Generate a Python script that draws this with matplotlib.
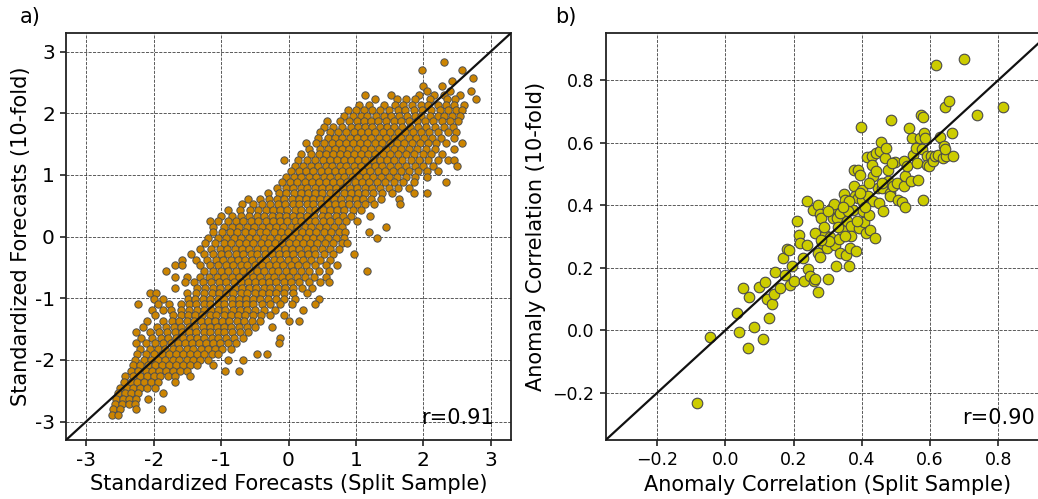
import matplotlib
matplotlib.use("Agg")
import matplotlib.pyplot as plt
import numpy as np

# ---------------- Panel a) data: rows of (y, [x values]) ----------------
left_rows = [
    (2.83, [2.31]),
    (2.70, [1.98, 2.58]),
    (2.57, [2.74]),
    (2.52, [2.43]),
    (2.44, [1.99, 2.27]),
    (2.36, [2.05, 2.40, 2.70]),
    (2.30, [1.14, 1.52, 1.93, 2.16, 2.31, 2.54]),
    (2.23, [1.28, 1.61, 1.74, 1.87, 2.10, 2.35, 2.47, 2.78]),
    (2.14, [1.05, 1.20, 1.42, 1.58, 1.70, 1.83, 1.96, 2.07, 2.22, 2.33, 2.45, 2.60]),
    (2.05, [0.88, 1.00, 1.12, 1.24, 1.36, 1.49, 1.62, 1.73, 1.86, 1.98, 2.12, 2.24, 2.36, 2.48, 2.57]),
    (1.96, [0.82, 0.95, 1.07, 1.17, 1.30, 1.41, 1.52, 1.64, 1.76, 1.87, 1.97, 2.10, 2.21, 2.31, 2.43, 2.55]),
    (1.87, [0.57, 0.76, 0.89, 1.01, 1.12, 1.22, 1.33, 1.45, 1.56, 1.67, 1.79, 1.91, 2.03, 2.15, 2.28, 2.40, 2.52]),
    (1.78, [0.52, 0.66, 0.80, 0.92, 1.03, 1.13, 1.24, 1.35, 1.46, 1.57, 1.69, 1.80, 1.92, 2.04, 2.17, 2.30, 2.44]),
    (1.69, [0.47, 0.62, 0.74, 0.86, 0.97, 1.07, 1.18, 1.29, 1.40, 1.51, 1.62, 1.73, 1.84, 1.96, 2.09, 2.21, 2.36, 2.48]),
    (1.60, [0.44, 0.58, 0.69, 0.80, 0.91, 1.02, 1.12, 1.23, 1.34, 1.45, 1.56, 1.67, 1.78, 1.89, 2.01, 2.13, 2.26, 2.45]),
    (1.51, [0.26, 0.41, 0.53, 0.64, 0.75, 0.86, 0.96, 1.06, 1.17, 1.28, 1.39, 1.50, 1.61, 1.72, 1.83, 1.95, 2.07, 2.19, 2.33, 2.58]),
    (1.42, [0.31, 0.46, 0.58, 0.69, 0.80, 0.90, 1.01, 1.12, 1.23, 1.34, 1.45, 1.56, 1.67, 1.79, 1.91, 2.04, 2.18, 2.45]),
    (1.33, [0.19, 0.33, 0.45, 0.56, 0.66, 0.76, 0.87, 0.97, 1.08, 1.18, 1.29, 1.40, 1.51, 1.62, 1.74, 1.86, 1.99, 2.12, 2.27]),
    (1.24, [-0.07, 0.14, 0.28, 0.40, 0.51, 0.62, 0.72, 0.82, 0.93, 1.03, 1.14, 1.25, 1.35, 1.46, 1.57, 1.69, 1.81, 1.94, 2.07, 2.22, 2.36, 2.46]),
    (1.15, [0.09, 0.22, 0.33, 0.44, 0.55, 0.65, 0.76, 0.86, 0.97, 1.07, 1.18, 1.28, 1.39, 1.50, 1.62, 1.74, 1.87, 2.00, 2.14, 2.50]),
    (1.06, [0.03, 0.15, 0.26, 0.37, 0.48, 0.58, 0.69, 0.79, 0.90, 1.00, 1.11, 1.21, 1.32, 1.43, 1.55, 1.67, 1.79, 1.92, 2.06, 2.22]),
    (0.97, [-0.03, 0.08, 0.19, 0.30, 0.41, 0.52, 0.62, 0.73, 0.83, 0.94, 1.04, 1.15, 1.26, 1.37, 1.49, 1.61, 1.74, 1.88, 2.06]),
    (0.88, [-0.10, 0.02, 0.13, 0.24, 0.35, 0.45, 0.56, 0.66, 0.77, 0.87, 0.98, 1.09, 1.20, 1.31, 1.43, 1.56, 1.70, 1.86, 2.33]),
    (0.79, [-0.17, -0.03, 0.07, 0.18, 0.28, 0.39, 0.49, 0.60, 0.70, 0.81, 0.91, 1.02, 1.13, 1.24, 1.36, 1.49, 1.63, 1.79]),
    (0.70, [-0.30, -0.14, -0.03, 0.08, 0.19, 0.29, 0.40, 0.50, 0.61, 0.71, 0.82, 0.92, 1.03, 1.14, 1.26, 1.39, 1.53, 1.86, 2.06]),
    (0.61, [-0.60, -0.42, -0.29, -0.17, -0.06, 0.05, 0.15, 0.26, 0.36, 0.47, 0.57, 0.68, 0.78, 0.89, 1.00, 1.11, 1.23, 1.37, 1.64]),
    (0.52, [-0.69, -0.52, -0.39, -0.27, -0.16, -0.05, 0.06, 0.16, 0.27, 0.37, 0.48, 0.58, 0.69, 0.79, 0.90, 1.01, 1.13, 1.27, 1.66]),
    (0.43, [-0.90, -0.72, -0.57, -0.45, -0.34, -0.23, -0.12, -0.02, 0.09, 0.19, 0.30, 0.40, 0.51, 0.61, 0.72, 0.83, 0.95, 1.08]),
    (0.34, [-1.00, -0.84, -0.70, -0.58, -0.47, -0.36, -0.25, -0.14, -0.04, 0.07, 0.17, 0.28, 0.38, 0.49, 0.59, 0.70, 0.81, 0.93, 1.21]),
    (0.25, [-1.17, -1.04, -0.90, -0.78, -0.67, -0.56, -0.45, -0.34, -0.23, -0.13, -0.02, 0.09, 0.19, 0.30, 0.40, 0.51, 0.62, 0.73, 0.85, 1.02]),
    (0.16, [-1.12, -0.96, -0.84, -0.73, -0.62, -0.51, -0.40, -0.29, -0.19, -0.08, 0.03, 0.13, 0.24, 0.34, 0.45, 0.56, 0.67, 0.79, 1.44]),
    (0.07, [-1.12, -0.99, -0.87, -0.76, -0.65, -0.54, -0.43, -0.33, -0.22, -0.11, -0.01, 0.10, 0.20, 0.31, 0.41, 0.52, 0.63, 0.75, 0.84, 1.19]),
    (-0.02, [-1.20, -1.05, -0.92, -0.81, -0.70, -0.59, -0.48, -0.37, -0.27, -0.16, -0.06, 0.05, 0.15, 0.26, 0.36, 0.47, 0.58, 0.70, 0.82, 1.31]),
    (-0.11, [-1.24, -1.09, -0.96, -0.85, -0.74, -0.63, -0.52, -0.41, -0.31, -0.20, -0.10, 0.01, 0.11, 0.22, 0.32, 0.43, 0.54, 0.66, 0.79, 0.87]),
    (-0.20, [-1.31, -1.15, -1.02, -0.91, -0.80, -0.69, -0.58, -0.47, -0.37, -0.26, -0.16, -0.05, 0.05, 0.16, 0.27, 0.38, 0.49, 0.61, 0.75]),
    (-0.29, [-1.44, -1.26, -1.12, -1.00, -0.89, -0.78, -0.67, -0.56, -0.46, -0.35, -0.25, -0.14, -0.04, 0.07, 0.18, 0.29, 0.40, 0.52, 0.66, 0.97]),
    (-0.38, [-1.58, -1.37, -1.21, -1.08, -0.97, -0.86, -0.75, -0.64, -0.54, -0.43, -0.33, -0.22, -0.12, -0.01, 0.10, 0.21, 0.33, 0.46, 0.62]),
    (-0.47, [-1.69, -1.58, -1.31, -1.16, -1.04, -0.93, -0.82, -0.71, -0.61, -0.50, -0.40, -0.29, -0.19, -0.08, 0.03, 0.14, 0.26, 0.39, 0.55, 0.72]),
    (-0.56, [-1.81, -1.26, -1.12, -1.00, -0.89, -0.78, -0.67, -0.57, -0.46, -0.36, -0.25, -0.15, -0.04, 0.07, 0.18, 0.31, 0.45, 0.60, 1.17]),
    (-0.65, [-1.68, -1.50, -1.31, -1.18, -1.06, -0.95, -0.84, -0.73, -0.63, -0.52, -0.42, -0.31, -0.21, -0.10, 0.01, 0.12, 0.24, 0.38, 0.55]),
    (-0.74, [-1.54, -1.40, -1.27, -1.15, -1.03, -0.92, -0.81, -0.71, -0.60, -0.50, -0.39, -0.29, -0.18, -0.07, 0.04, 0.16, 0.30, 0.47, 0.60]),
    (-0.83, [-1.68, -1.36, -1.24, -1.12, -1.01, -0.90, -0.79, -0.69, -0.58, -0.48, -0.37, -0.27, -0.16, -0.05, 0.07, 0.20, 0.35]),
    (-0.92, [-2.06, -1.96, -1.51, -1.37, -1.25, -1.14, -1.03, -0.92, -0.82, -0.71, -0.61, -0.50, -0.40, -0.29, -0.18, -0.06, 0.07, 0.27]),
    (-1.01, [-2.00, -1.86, -1.49, -1.38, -1.27, -1.16, -1.05, -0.95, -0.84, -0.74, -0.63, -0.53, -0.42, -0.31, -0.19, -0.06, 0.10, 0.45]),
    (-1.10, [-2.23, -1.93, -1.77, -1.60, -1.48, -1.37, -1.26, -1.16, -1.05, -0.95, -0.84, -0.74, -0.63, -0.52, -0.40, -0.27, -0.12, 0.05, 0.40]),
    (-1.19, [-2.03, -1.86, -1.74, -1.59, -1.47, -1.36, -1.25, -1.15, -1.04, -0.94, -0.83, -0.72, -0.61, -0.49, -0.36, -0.20, 0.22]),
    (-1.28, [-1.98, -1.71, -1.60, -1.49, -1.38, -1.28, -1.17, -1.07, -0.96, -0.86, -0.75, -0.64, -0.53, -0.41, -0.28, -0.07]),
    (-1.37, [-2.10, -1.86, -1.73, -1.62, -1.51, -1.40, -1.30, -1.19, -1.09, -0.98, -0.88, -0.77, -0.66, -0.54, -0.42, 0.00, 0.15]),
    (-1.46, [-2.16, -1.95, -1.81, -1.70, -1.59, -1.48, -1.38, -1.27, -1.17, -1.06, -0.96, -0.85, -0.74, -0.62, -0.50, -0.25]),
    (-1.55, [-2.26, -2.06, -1.92, -1.80, -1.69, -1.58, -1.47, -1.37, -1.26, -1.16, -1.05, -0.95, -0.84, -0.72, -0.60]),
    (-1.64, [-2.19, -2.02, -1.89, -1.78, -1.67, -1.56, -1.46, -1.35, -1.25, -1.14, -1.04, -0.93, -0.81, -0.68, -0.12]),
    (-1.73, [-2.26, -2.11, -1.98, -1.86, -1.75, -1.64, -1.54, -1.43, -1.33, -1.22, -1.12, -1.01, -0.90, -0.78, -0.14]),
    (-1.82, [-2.20, -2.06, -1.94, -1.83, -1.72, -1.62, -1.51, -1.41, -1.30, -1.20, -1.09, -0.98, -0.86]),
    (-1.91, [-2.24, -2.11, -1.99, -1.88, -1.77, -1.67, -1.56, -1.46, -1.35, -1.25, -1.14, -1.04, -0.47, -0.32]),
    (-2.00, [-2.28, -2.15, -2.04, -1.93, -1.83, -1.72, -1.62, -1.51, -1.41, -1.31, -1.20, -0.89, -0.68]),
    (-2.09, [-2.31, -2.20, -2.09, -1.98, -1.88, -1.77, -1.67, -1.57, -1.46, -1.36, -1.12]),
    (-2.18, [-2.34, -2.23, -2.12, -2.02, -1.92, -1.81, -1.71, -1.61, -1.50, -0.94, -0.74]),
    (-2.27, [-2.42, -2.31, -2.20, -2.10, -2.00, -1.90, -1.79, -1.69, -1.46]),
    (-2.36, [-2.44, -2.34, -2.24, -2.14, -2.04, -1.93, -1.69]),
    (-2.45, [-2.50, -2.40, -2.30, -2.20, -2.10, -1.98]),
    (-2.54, [-2.53, -2.43, -2.33, -2.23, -1.86]),
    (-2.63, [-2.56, -2.46, -2.36, -2.26, -2.08]),
    (-2.72, [-2.57, -2.47, -2.37, -2.28]),
    (-2.80, [-2.60, -2.50, -2.26, -1.88]),
    (-2.89, [-2.62, -2.53]),
]
left_ticks = [-3, -2, -1, 0, 1, 2, 3]
left_ticklabels = ["-3", "-2", "-1", "0", "1", "2", "3"]
left_r_text = "r=0.91"

# ---------------- Panel b) data ----------------
right_x = [-0.083, -0.046, 0.034, 0.039, 0.066, 0.083, 0.110, 0.052, 0.070, 0.098,
           0.117, 0.127, 0.122, 0.137, 0.146, 0.143, 0.161, 0.169, 0.180, 0.188,
           0.176, 0.190, 0.195, 0.202, 0.210, 0.215, 0.220, 0.227, 0.231, 0.239,
           0.239, 0.241, 0.249, 0.259, 0.263, 0.257, 0.263, 0.271, 0.273, 0.271,
           0.276, 0.278, 0.281, 0.283, 0.293, 0.298, 0.302, 0.307, 0.312, 0.315,
           0.317, 0.322, 0.325, 0.327, 0.332, 0.335, 0.341, 0.346, 0.348, 0.351,
           0.353, 0.356, 0.361, 0.364, 0.369, 0.369, 0.374, 0.376, 0.379, 0.376,
           0.383, 0.388, 0.390, 0.393, 0.395, 0.397, 0.400, 0.400, 0.403, 0.405,
           0.413, 0.415, 0.417, 0.422, 0.424, 0.429, 0.429, 0.432, 0.434, 0.439,
           0.442, 0.446, 0.449, 0.454, 0.456, 0.459, 0.463, 0.468, 0.471, 0.476,
           0.478, 0.481, 0.483, 0.485, 0.491, 0.496, 0.502, 0.507, 0.517, 0.522,
           0.524, 0.527, 0.527, 0.532, 0.537, 0.543, 0.546, 0.551, 0.559, 0.561,
           0.563, 0.569, 0.574, 0.576, 0.579, 0.580, 0.582, 0.585, 0.590, 0.592,
           0.598, 0.602, 0.608, 0.615, 0.618, 0.624, 0.629, 0.637, 0.641, 0.644,
           0.647, 0.654, 0.663, 0.666, 0.698, 0.737, 0.812, 0.644,
           0.361, 0.337, 0.305, 0.290, 0.350, 0.385, 0.420, 0.440, 0.460, 0.488,
           0.300, 0.330, 0.360, 0.395, 0.410, 0.345, 0.280]
right_y = [-0.231, -0.020, 0.056, -0.005, -0.055, 0.011, -0.026, 0.136, 0.107, 0.139,
           0.154, 0.040, 0.099, 0.083, 0.186, 0.115, 0.136, 0.232, 0.260, 0.258,
           0.178, 0.144, 0.205, 0.157, 0.348, 0.306, 0.279, 0.232, 0.159, 0.274,
           0.412, 0.197, 0.173, 0.159, 0.163, 0.384, 0.311, 0.123, 0.400, 0.248,
           0.235, 0.372, 0.359, 0.279, 0.306, 0.264, 0.163, 0.299, 0.391, 0.359,
           0.405, 0.274, 0.205, 0.359, 0.292, 0.248, 0.322, 0.375, 0.437, 0.418,
           0.242, 0.348, 0.205, 0.264, 0.333, 0.301, 0.386, 0.460, 0.428, 0.511,
           0.253, 0.513, 0.423, 0.327, 0.495, 0.651, 0.449, 0.418, 0.380, 0.345,
           0.311, 0.553, 0.428, 0.370, 0.322, 0.556, 0.527, 0.492, 0.412, 0.295,
           0.566, 0.455, 0.407, 0.572, 0.603, 0.455, 0.380, 0.550, 0.582, 0.476,
           0.511, 0.439, 0.428, 0.672, 0.462, 0.537, 0.471, 0.418, 0.409, 0.460,
           0.540, 0.492, 0.394, 0.524, 0.646, 0.476, 0.614, 0.561, 0.582, 0.534,
           0.481, 0.614, 0.688, 0.578, 0.418, 0.683, 0.632, 0.614, 0.556, 0.527,
           0.524, 0.556, 0.540, 0.556, 0.848, 0.561, 0.619, 0.550, 0.588, 0.713,
           0.556, 0.734, 0.632, 0.558, 0.867, 0.688, 0.715, 0.579,
           0.412, 0.375, 0.285, 0.330, 0.300, 0.350, 0.470, 0.510, 0.470, 0.534,
           0.380, 0.330, 0.380, 0.440, 0.395, 0.395, 0.290]
right_ticks = [-0.2, 0.0, 0.2, 0.4, 0.6, 0.8]
right_r_text = "r=0.90"

# ---------------- Figure ----------------
plt.rcParams['font.family'] = ['DejaVu Sans']
fig = plt.figure(figsize=(10.38, 4.99), dpi=100)
axA = fig.add_axes([66 / 1038, 59 / 499, 445 / 1038, 407 / 499])
axB = fig.add_axes([605.7 / 1038, 59 / 499, 444 / 1038, 407 / 499])

lx = np.array([x for y, xs in left_rows for x in xs])
ly = np.array([y for y, xs in left_rows for x in xs])


def style(ax, tick_fs):
    ax.grid(True, color='k', linestyle='--', linewidth=0.6, alpha=0.75)
    ax.set_axisbelow(True)
    for sp in ax.spines.values():
        sp.set_linewidth(1.3)
        sp.set_color('#222222')
    ax.tick_params(direction='out', length=4.5, width=1.2, labelsize=tick_fs,
                   colors='#222222', labelcolor='k')


# Panel a
axA.scatter(lx, ly, s=28, c='#cc8400', edgecolors='#4f4f4f', linewidths=0.7, zorder=3)
axA.plot([-3.3, 3.3], [-3.3, 3.3], color='#111111', lw=1.6, zorder=4)
axA.set_xlim(-3.3, 3.3)
axA.set_ylim(-3.3, 3.3)
axA.set_xticks(left_ticks, left_ticklabels)
axA.set_yticks(left_ticks, left_ticklabels)
style(axA, 14.5)
axA.set_xlabel("Standardized Forecasts (Split Sample)", fontsize=15, labelpad=3)
axA.set_ylabel("Standardized Forecasts (10-fold)", fontsize=15, labelpad=3)
axA.text(0.962, 0.04, left_r_text, transform=axA.transAxes, ha='right', va='baseline',
         fontsize=15, zorder=5)

# Panel b
axB.scatter(right_x, right_y, s=58, c='#cccc00', edgecolors='#4a4a4a', linewidths=0.8, zorder=3)
axB.plot([-0.35, 0.95], [-0.35, 0.95], color='#111111', lw=1.6, zorder=4)
axB.set_xlim(-0.35, 0.95)
axB.set_ylim(-0.35, 0.95)
axB.set_xticks(right_ticks)
axB.set_yticks(right_ticks)
style(axB, 12.5)
axB.set_xlabel("Anomaly Correlation (Split Sample)", fontsize=15, labelpad=4)
axB.set_ylabel("Anomaly Correlation (10-fold)", fontsize=15, labelpad=5)
axB.text(0.967, 0.04, right_r_text, transform=axB.transAxes, ha='right', va='baseline',
         fontsize=15, zorder=5)

fig.text(20 / 1038, 1 - 17 / 499, "a)", fontsize=15, ha='left', va='center')
fig.text(555 / 1038, 1 - 17 / 499, "b)", fontsize=15, ha='left', va='center')

fig.savefig("out.png", dpi=100)
